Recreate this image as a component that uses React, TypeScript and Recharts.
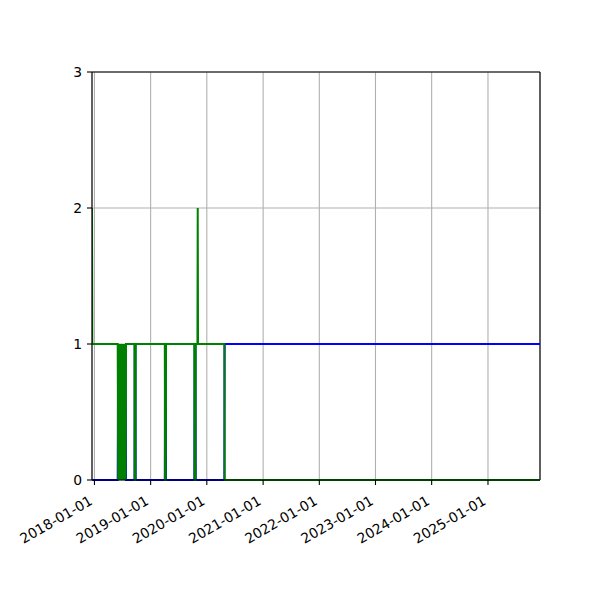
import React from "react";
import {
  LineChart,
  Line,
  XAxis,
  YAxis,
  CartesianGrid,
  ReferenceLine,
} from "recharts";

// sample dates and the two step series
const dates = [
  "2017-12-16", "2017-12-18",
  "2018-06-01", "2018-06-04", "2018-06-07", "2018-06-10", "2018-06-13",
  "2018-06-16", "2018-06-19", "2018-06-22", "2018-06-25", "2018-06-28",
  "2018-07-01", "2018-07-04", "2018-07-07", "2018-07-10", "2018-07-13",
  "2018-07-16", "2018-07-19", "2018-07-22", "2018-07-25",
  "2018-09-18", "2018-09-20", "2018-09-24", "2018-09-26",
  "2019-04-03", "2019-04-05", "2019-04-09", "2019-04-11",
  "2019-10-12", "2019-10-14", "2019-10-19", "2019-10-21",
  "2019-11-01", "2019-11-03", "2019-11-05",
  "2020-04-24", "2020-04-26",
  "2025-12-05",
];

const greenValues = [
  2, 1,
  1, 0, 1, 0, 1,
  0, 1, 0, 1, 0,
  1, 0, 1, 0, 1,
  0, 1, 0, 1,
  1, 0, 0, 1,
  1, 0, 0, 1,
  1, 0, 0, 1,
  1, 2, 1,
  1, 0,
  0,
];

const blueValues = [
  0, 0,
  0, 1, 0, 1, 0,
  1, 0, 1, 0, 1,
  0, 1, 0, 1, 0,
  1, 0, 1, 0,
  0, 1, 1, 0,
  0, 1, 1, 0,
  0, 1, 1, 0,
  0, 0, 0,
  0, 1,
  1,
];

const tickLabels = [
  "2018-01-01", "2019-01-01", "2020-01-01", "2021-01-01",
  "2022-01-01", "2023-01-01", "2024-01-01", "2025-01-01",
];

const yTicks = [0, 1, 2, 3];

const data = dates.map((d, i) => ({
  t: Date.parse(d),
  green: greenValues[i],
  blue: blueValues[i],
}));

const xTicks = tickLabels.map((d) => Date.parse(d));
const xStart = data[0].t;
const xEnd = data[data.length - 1].t;

const FONT = "DejaVu Sans";

// rotated date labels, right-aligned under the tick like autofmt_xdate
const DateTick = (props: any) => {
  const { x, y, payload } = props;
  const label = new Date(payload.value).toISOString().slice(0, 10);
  return (
    <g transform={`translate(${x - 6},${y + 5}) rotate(-30)`}>
      <text
        x={0}
        y={0}
        dy="0.72em"
        textAnchor="end"
        fontFamily={FONT}
        fontSize={13.9}
        fill="#000"
      >
        {label}
      </text>
    </g>
  );
};

const App = () => {
  return (
    <div style={{ position: "absolute", left: 0, top: 0, width: 600, height: 600, background: "#fff" }}>
      <LineChart
        width={600}
        height={600}
        data={data}
        margin={{ top: 72, right: 60, left: 0, bottom: 0 }}
      >
        <CartesianGrid stroke="#b0b0b0" strokeWidth={1.1} />
        <XAxis
          dataKey="t"
          type="number"
          domain={[xStart, xEnd]}
          ticks={xTicks}
          tick={<DateTick />}
          tickSize={5}
          tickMargin={5}
          height={120}
          interval={0}
          stroke="#000"
          strokeWidth={1.1}
          allowDataOverflow
        />
        <YAxis
          type="number"
          domain={[0, 3]}
          ticks={yTicks}
          width={92}
          tickSize={5}
          tickMargin={5}
          stroke="#000"
          strokeWidth={1.1}
          interval={0}
          tick={{ fill: "#000", fontFamily: FONT, fontSize: 13.9 }}
        />
        <ReferenceLine y={3} stroke="#000" strokeWidth={1.1} />
        <ReferenceLine x={xEnd} stroke="#000" strokeWidth={1.1} />
        <Line
          dataKey="blue"
          type="linear"
          stroke="#0000ff"
          strokeWidth={2}
          dot={false}
          isAnimationActive={false}
        />
        <Line
          dataKey="green"
          type="linear"
          stroke="#008000"
          strokeWidth={2}
          dot={false}
          isAnimationActive={false}
        />
      </LineChart>
    </div>
  );
};

export default App;
